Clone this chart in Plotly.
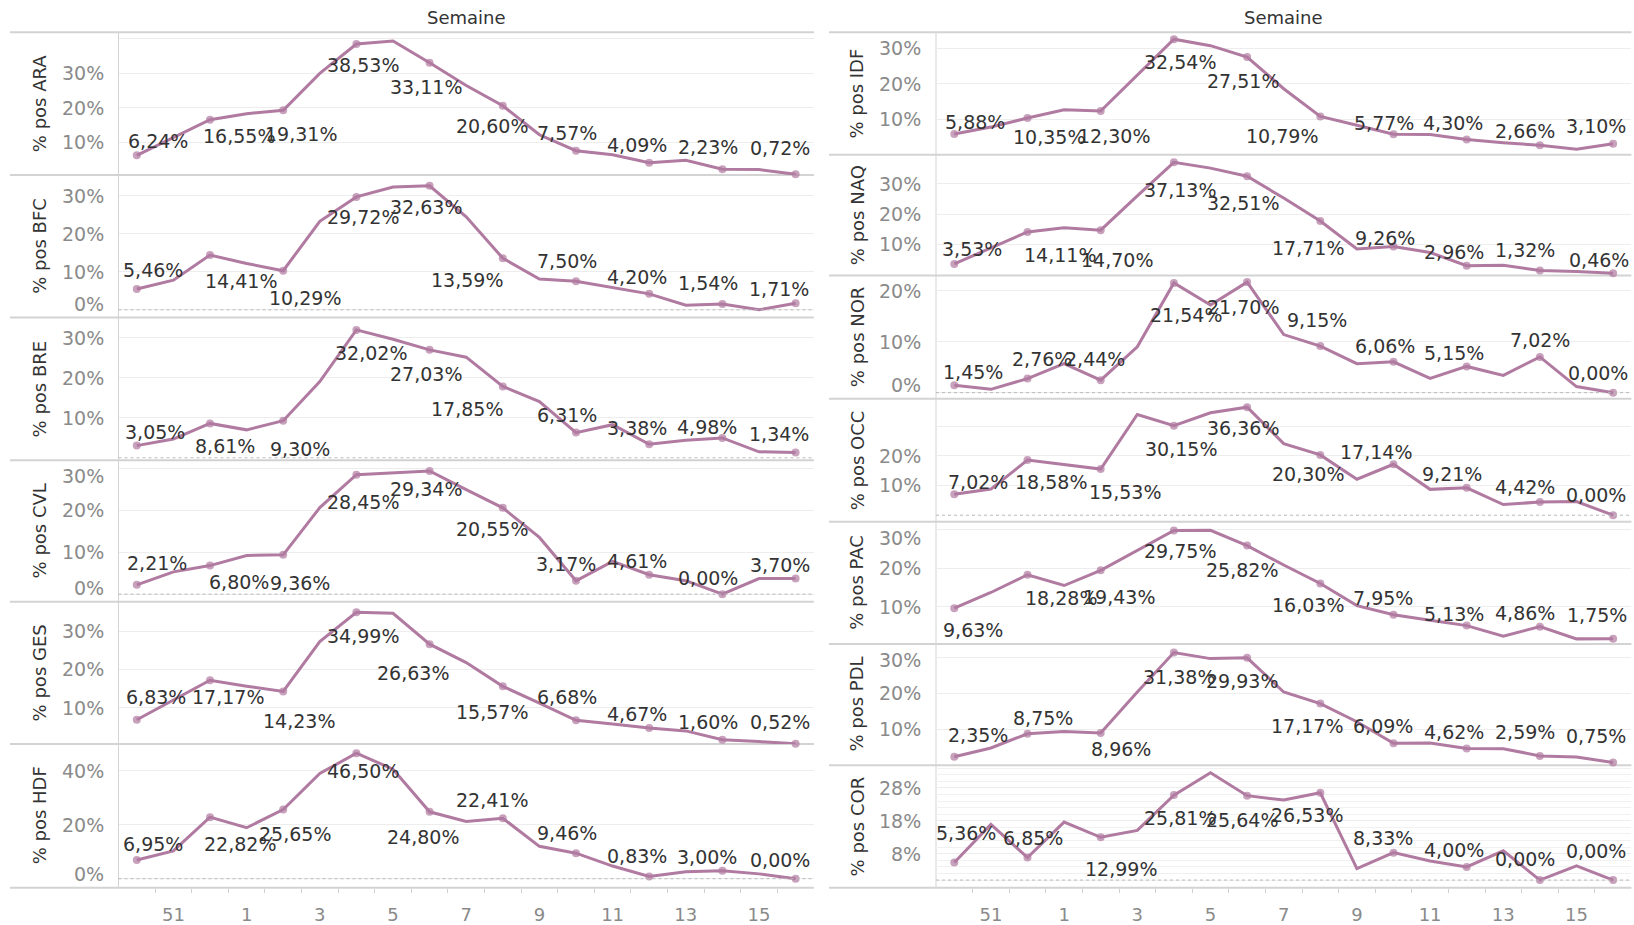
import plotly.graph_objects as go

# ---------------- data ----------------
weeks = [50, 51, 52, 1, 2, 3, 4, 5, 6, 7, 8, 9, 10, 11, 12, 13, 14, 15, 16]
tick_weeks = [51, 1, 3, 5, 7, 9, 11, 13, 15]

left_regions = ["ARA", "BFC", "BRE", "CVL", "GES", "HDF"]
right_regions = ["IDF", "NAQ", "NOR", "OCC", "PAC", "PDL", "COR"]

ARA = [6.24, 11.3, 16.55, 18.3, 19.31, 30.0, 38.53, 39.4, 33.11, 26.5, 20.60, 12.2, 7.57, 6.4, 4.09, 4.8, 2.23, 2.1, 0.72]
BFC = [5.46, 7.8, 14.41, 12.2, 10.29, 23.3, 29.72, 32.3, 32.63, 24.5, 13.59, 8.1, 7.50, 5.8, 4.20, 1.2, 1.54, 0.0, 1.71]
BRE = [3.05, 4.7, 8.61, 7.0, 9.30, 19.1, 32.02, 29.7, 27.03, 25.2, 17.85, 14.1, 6.31, 8.3, 3.38, 4.4, 4.98, 1.5, 1.34]
CVL = [2.21, 5.3, 6.80, 9.2, 9.36, 20.6, 28.45, 28.9, 29.34, 24.9, 20.55, 13.5, 3.17, 7.8, 4.61, 3.2, 0.00, 3.7, 3.70]
GES = [6.83, 12.0, 17.17, 15.6, 14.23, 27.3, 34.99, 34.7, 26.63, 21.8, 15.57, 11.2, 6.68, 5.7, 4.67, 3.9, 1.60, 1.1, 0.52]
HDF = [6.95, 10.3, 22.82, 18.9, 25.65, 39.0, 46.50, 40.6, 24.80, 21.2, 22.41, 12.0, 9.46, 4.7, 0.83, 2.6, 3.00, 1.8, 0.00]
IDF = [5.88, 7.8, 10.35, 12.7, 12.30, 22.5, 32.54, 30.7, 27.51, 18.6, 10.79, 8.3, 5.77, 5.7, 4.30, 3.4, 2.66, 1.6, 3.10]
NAQ = [3.53, 8.9, 14.11, 15.5, 14.70, 26.0, 37.13, 35.2, 32.51, 25.3, 17.71, 8.5, 9.26, 7.3, 2.96, 3.1, 1.32, 1.0, 0.46]
NOR = [1.45, 0.65, 2.76, 5.7, 2.44, 9.0, 21.54, 17.2, 21.70, 11.4, 9.15, 5.7, 6.06, 2.8, 5.15, 3.4, 7.02, 1.2, 0.00]
OCC = [7.02, 8.8, 18.58, 17.1, 15.53, 33.9, 30.15, 34.5, 36.36, 24.1, 20.30, 12.1, 17.14, 8.7, 9.21, 3.6, 4.42, 4.6, 0.00]
PAC = [9.63, 13.7, 18.28, 15.5, 19.43, 24.6, 29.75, 29.8, 25.82, 20.8, 16.03, 10.3, 7.95, 6.5, 5.13, 2.4, 4.86, 1.7, 1.75]
PDL = [2.35, 4.8, 8.75, 9.4, 8.96, 20.4, 31.38, 29.7, 29.93, 20.4, 17.17, 12.1, 6.09, 6.2, 4.62, 4.6, 2.59, 2.3, 0.75]
COR = [5.36, 16.9, 6.85, 17.6, 12.99, 15.1, 25.81, 32.6, 25.64, 24.3, 26.53, 3.5, 8.33, 5.8, 4.00, 8.9, 0.00, 4.3, 0.00]

series = {"ARA": ARA, "BFC": BFC, "BRE": BRE, "CVL": CVL, "GES": GES, "HDF": HDF,
          "IDF": IDF, "NAQ": NAQ, "NOR": NOR, "OCC": OCC, "PAC": PAC, "PDL": PDL, "COR": COR}

# ---------------- axis settings ----------------
y_range = {"ARA": [0.55, 41.9], "BFC": [-2.05, 35.5], "BRE": [-0.6, 35.1], "CVL": [-1.8, 31.9],
           "GES": [0.45, 37.75], "HDF": [-3.3, 49.9], "IDF": [0.0, 34.45], "NAQ": [-0.3, 39.6],
           "NOR": [-1.2, 23.0], "OCC": [-2.2, 39.2], "PAC": [0.4, 32.0], "PDL": [0.0, 33.8],
           "COR": [-2.3, 34.9]}
y_ticks = {"ARA": [10, 20, 30, 40], "BFC": [0, 10, 20, 30], "BRE": [10, 20, 30], "CVL": [0, 10, 20, 30],
           "GES": [10, 20, 30], "HDF": [0, 20, 40], "IDF": [10, 20, 30], "NAQ": [10, 20, 30],
           "NOR": [0, 10, 20], "OCC": [10, 20, 30], "PAC": [10, 20, 30], "PDL": [10, 20, 30],
           "COR": [8, 18, 28]}
y_tick_hidden = {"ARA": [40], "OCC": [30]}
zero_dashed = ["BFC", "BRE", "CVL", "HDF", "NOR", "OCC", "COR"]

# label offsets (dx px, dy px; dy > 0 = below the point) for the labelled points
label_offsets = {
    "ARA": [(21, -14), (29, 16), (18, 24), (7, 21), (-4, 24), (-11, 20), (-9, -18), (-12, -18), (-14, -22), (-16, -26)],
    "BFC": [(16, -19), (31, 26), (22, 27), (7, 20), (-4, 21), (-36, 22), (-9, -20), (-12, -17), (-14, -21), (-17, -14)],
    "BRE": [(18, -14), (15, 23), (17, 28), (15, 23), (-4, 24), (-36, 22), (-9, -18), (-12, -16), (-15, -11), (-17, -18)],
    "CVL": [(20, -22), (29, 16), (17, 28), (7, 27), (-4, 18), (-11, 21), (-10, -17), (-12, -14), (-14, -16), (-16, -14)],
    "GES": [(19, -23), (18, 17), (16, 30), (7, 24), (-17, 29), (-11, 26), (-9, -23), (-12, -14), (-14, -18), (-16, -22)],
    "HDF": [(16, -16), (30, 27), (12, 24), (7, 18), (-7, 25), (-11, -18), (-9, -20), (-12, -20), (-15, -14), (-16, -19)],
    "IDF": [(21, -12), (21, 19), (13, 25), (6, 23), (-4, 24), (-38, 20), (-10, -11), (-14, -17), (-15, -14), (-17, -18)],
    "NAQ": [(18, -15), (32, 23), (16, 30), (6, 28), (-4, 27), (-12, 27), (-9, -9), (-13, -14), (-15, -21), (-14, -13)],
    "NOR": [(19, -13), (14, -20), (-6, -21), (12, 32), (-4, 25), (-3, -26), (-9, -16), (-13, -13), (0, -17), (-15, -20)],
    "OCC": [(24, -12), (23, 22), (24, 23), (7, 23), (-4, 21), (-12, 19), (-18, -12), (-15, -14), (-15, -15), (-17, -20)],
    "PAC": [(19, 22), (33, 23), (18, 27), (6, 21), (-5, 24), (-12, 22), (-11, -17), (-13, -12), (-15, -14), (-16, -24)],
    "PDL": [(24, -22), (15, -16), (20, 16), (5, 24), (-5, 23), (-13, 22), (-11, -17), (-13, -17), (-15, -24), (-17, -26)],
    "COR": [(12, -29), (5, -20), (20, 32), (6, 23), (-5, 24), (-13, 22), (-11, -15), (-13, -17), (-15, -21), (-17, -29)],
}

# ---------------- style ----------------
W, H = 1634, 925
LINE = "#b07aa1"
FONT = "DejaVu Sans"
SEP = "#d3d3d3"
TICK_COLOR = "#8a8a8a"
TOP_PAD, BOT_PAD = 16.0, 13.5   # tick labels kept inside the pane (Tableau-style)
columns = [
    dict(regions=left_regions, bounds=[32.5, 175.7, 319.0, 462.2, 604.3, 747.3, 891.5],
         plot_x=(118.5, 813.9), label_x0=10),
    dict(regions=right_regions, bounds=[32.5, 155.5, 276.7, 400.5, 524.0, 646.7, 768.5, 891.5],
         plot_x=(936.0, 1631.4), label_x0=829),
]


def fmt(v):
    return f"{v:.2f}%".replace(".", ",")


fig = go.Figure()
layout = {}
annotations = []
shapes = []
xs = list(range(len(weeks)))
marker_sizes = [8 if i % 2 == 0 else 0 for i in xs]

k = 0
for col in columns:
    x0, x1 = col["plot_x"]
    bounds = col["bounds"]
    nreg = len(col["regions"])
    for r, reg in enumerate(col["regions"]):
        k += 1
        xn = "x" if k == 1 else f"x{k}"
        yn = "y" if k == 1 else f"y{k}"
        top, bot = bounds[r], bounds[r + 1]
        vals = series[reg]
        fig.add_trace(go.Scatter(
            x=xs, y=vals, mode="lines+markers", xaxis=xn, yaxis=yn,
            line=dict(color=LINE, width=3),
            marker=dict(size=marker_sizes, color=LINE, line=dict(width=0)),
            hoverinfo="skip", showlegend=False, cliponaxis=False))

        is_bottom = (r == nreg - 1)
        xax = dict(domain=[x0 / W, x1 / W], range=[-0.5, 18.5], anchor=yn,
                   showgrid=False, zeroline=False, showline=False, fixedrange=True)
        if is_bottom:
            xax.update(tickvals=[weeks.index(w) for w in tick_weeks],
                       ticktext=[str(w) for w in tick_weeks],
                       ticks="", ticklabelstandoff=14,
                       tickfont=dict(family=FONT, size=18, color=TICK_COLOR),
                       minor=dict(tickvals=[i + 0.5 for i in range(18)], ticks="outside",
                                  ticklen=4, tickcolor="#cfcfcf", tickwidth=1))
        else:
            xax.update(showticklabels=False, ticks="")
        ticks = y_ticks[reg]
        hidden = y_tick_hidden.get(reg, [])
        lo, hi = y_range[reg]
        yax = dict(domain=[1 - bot / H, 1 - top / H], range=[lo, hi], anchor=xn,
                   tickvals=ticks, showticklabels=False,
                   showgrid=True, gridcolor="#ededed", gridwidth=1,
                   zeroline=False, showline=False, ticks="", fixedrange=True)
        if reg == "COR":
            yax["minor"] = dict(tickvals=list(range(-2, 36, 2)), showgrid=True,
                                gridcolor="#f1f1f1", gridwidth=1)
        layout["xaxis" if k == 1 else f"xaxis{k}"] = xax
        layout["yaxis" if k == 1 else f"yaxis{k}"] = yax

        # y tick labels, kept inside the pane like Tableau does
        for t in ticks:
            if t in hidden:
                continue
            p = top + (hi - t) / (hi - lo) * (bot - top)
            pc = min(max(p, top + TOP_PAD), bot - BOT_PAD)
            annotations.append(dict(x=(x0 - 13) / W, y=t, xref="paper", yref=yn, text=f"{t}%",
                                    showarrow=False, xanchor="right", yanchor="middle",
                                    yshift=-(pc - p),
                                    font=dict(family=FONT, size=19, color=TICK_COLOR)))

        if reg in zero_dashed:
            shapes.append(dict(type="line", xref=f"{xn} domain", yref=yn, x0=0, x1=1, y0=0, y1=0,
                               line=dict(color="#b9b9b9", width=1, dash="dot"), layer="above"))

        # axis title
        annotations.append(dict(x=(x0 - 79) / W, y=1 - (top + bot) / 2 / H, xref="paper", yref="paper",
                                text=f"% pos {reg}", textangle=-90, showarrow=False,
                                xanchor="center", yanchor="middle",
                                font=dict(family=FONT, size=18, color="#333333")))
        # data labels
        for j, i in enumerate(range(0, len(weeks), 2)):
            dx, dy = label_offsets[reg][j]
            annotations.append(dict(x=i, y=vals[i], xref=xn, yref=yn, text=fmt(vals[i]),
                                    showarrow=False, xshift=dx, yshift=-dy,
                                    xanchor="center", yanchor="middle",
                                    font=dict(family=FONT, size=19, color="#333333")))

    # separators
    for b in bounds:
        shapes.append(dict(type="line", xref="paper", yref="paper",
                           x0=col["label_x0"] / W, x1=x1 / W, y0=1 - b / H, y1=1 - b / H,
                           line=dict(color=SEP, width=2), layer="below"))
    shapes.append(dict(type="line", xref="paper", yref="paper",
                       x0=x0 / W, x1=x0 / W, y0=1 - bounds[0] / H, y1=1 - bounds[-1] / H,
                       line=dict(color=SEP, width=1), layer="below"))
    # header
    annotations.append(dict(x=(x0 + x1) / 2 / W, y=1 - 17.7 / H, xref="paper", yref="paper",
                            text="Semaine", showarrow=False, xanchor="center", yanchor="middle",
                            font=dict(family=FONT, size=18, color="#333333")))

fig.update_layout(width=W, height=H, margin=dict(l=0, r=0, t=0, b=0),
                  paper_bgcolor="white", plot_bgcolor="rgba(0,0,0,0)",
                  font=dict(family=FONT), showlegend=False,
                  annotations=annotations, shapes=shapes, **layout)

fig.write_html("out.html", config={"displayModeBar": False},
               post_script="document.body.style.margin='0px';")
